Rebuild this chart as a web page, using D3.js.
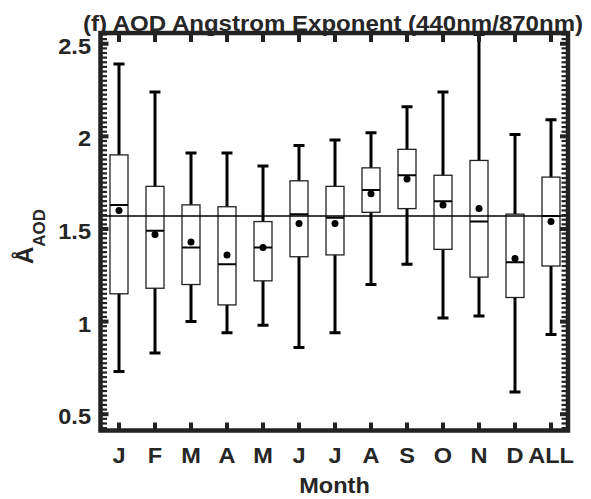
<!DOCTYPE html>
<html><head><meta charset="utf-8">
<script src="https://cdn.jsdelivr.net/npm/d3@7"></script>
<style>body{margin:0;background:#fff}svg{display:block}text{font-family:"Liberation Sans",Arial,sans-serif;font-weight:bold;fill:#262626}</style>
</head><body><svg id="c" width="591" height="499"></svg>
<script>
const months = ["J","F","M","A","M","J","J","A","S","O","N","D","ALL"];
const whiskerHigh = [2.39,2.24,1.91,1.91,1.84,1.95,1.98,2.02,2.16,2.24,2.55,2.01,2.09];
const q3 = [1.90,1.73,1.63,1.62,1.54,1.76,1.73,1.83,1.93,1.79,1.87,1.58,1.78];
const medians = [1.63,1.49,1.40,1.31,1.40,1.58,1.56,1.71,1.79,1.65,1.54,1.32,1.57];
const means = [1.60,1.47,1.43,1.36,1.40,1.53,1.53,1.69,1.77,1.63,1.61,1.34,1.54];
const q1 = [1.15,1.18,1.20,1.09,1.22,1.35,1.36,1.59,1.61,1.39,1.24,1.13,1.30];
const whiskerLow = [0.73,0.83,1.00,0.94,0.98,0.86,0.94,1.20,1.31,1.02,1.03,0.62,0.93];
const refLine = 1.57;
const yTicks = [0.5,1,1.5,2,2.5];
const yTickLabels = ["0.5","1","1.5","2","2.5"];

const svg = d3.select("#c");
const L = 100.5, R = 568, T = 33, B = 430.5;
const x = d3.scaleLinear().domain([-0.5, 12.5]).range([101, 569]);
const y = d3.scaleLinear().domain([0.412, 2.558]).range([B, T]);
const sx = 1.07;
const frameC = "#222";

const data = months.map((m,i)=>({m,i,hi:whiskerHigh[i],q3:q3[i],med:medians[i],mean:means[i],q1:q1[i],lo:whiskerLow[i]}));
const bw = 18, cw = 11;
const g = svg.append("g");
const clip = svg.append("clipPath").attr("id","pc").append("rect").attr("x",L).attr("y",T).attr("width",R-L).attr("height",B-T);
const pg = g.append("g").attr("clip-path","url(#pc)");

// whiskers
pg.selectAll(".wh").data(data).enter().append("line")
  .attr("x1",d=>x(d.i)).attr("x2",d=>x(d.i)).attr("y1",d=>y(d.hi)).attr("y2",d=>y(d.lo))
  .attr("stroke","#000").attr("stroke-width",3);
pg.selectAll(".capH").data(data).enter().append("line")
  .attr("x1",d=>x(d.i)-cw/2).attr("x2",d=>x(d.i)+cw/2).attr("y1",d=>y(d.hi)).attr("y2",d=>y(d.hi))
  .attr("stroke","#000").attr("stroke-width",3);
pg.selectAll(".capL").data(data).enter().append("line")
  .attr("x1",d=>x(d.i)-cw/2).attr("x2",d=>x(d.i)+cw/2).attr("y1",d=>y(d.lo)).attr("y2",d=>y(d.lo))
  .attr("stroke","#000").attr("stroke-width",3);
// boxes
pg.selectAll(".box").data(data).enter().append("rect")
  .attr("x",d=>x(d.i)-bw/2).attr("width",bw).attr("y",d=>y(d.q3)).attr("height",d=>y(d.q1)-y(d.q3))
  .attr("fill","#fff").attr("stroke","#222").attr("stroke-width",1.3);
pg.selectAll(".med").data(data).enter().append("line")
  .attr("x1",d=>x(d.i)-bw/2).attr("x2",d=>x(d.i)+bw/2).attr("y1",d=>y(d.med)).attr("y2",d=>y(d.med))
  .attr("stroke","#000").attr("stroke-width",2);
pg.selectAll(".mean").data(data).enter().append("circle")
  .attr("cx",d=>x(d.i)).attr("cy",d=>y(d.mean)).attr("r",3.5).attr("fill","#000");
// reference line
g.append("line").attr("x1",L).attr("x2",R).attr("y1",y(refLine)).attr("y2",y(refLine))
  .attr("stroke","#000").attr("stroke-width",1.6);

// minor y ticks
const minor = d3.range(0.425, 2.56, 0.025).filter(v=>Math.abs(v*2-Math.round(v*2))>1e-6);
const mt = g.append("g");
minor.forEach(v=>{
  mt.append("line").attr("x1",L).attr("x2",L+6.5).attr("y1",y(v)).attr("y2",y(v)).attr("stroke",frameC).attr("stroke-width",2.2);
  mt.append("line").attr("x1",R).attr("x2",R-6.5).attr("y1",y(v)).attr("y2",y(v)).attr("stroke",frameC).attr("stroke-width",2.2);
});
yTicks.forEach(v=>{
  mt.append("line").attr("x1",L).attr("x2",L+8).attr("y1",y(v)).attr("y2",y(v)).attr("stroke",frameC).attr("stroke-width",4);
  mt.append("line").attr("x1",R).attr("x2",R-8).attr("y1",y(v)).attr("y2",y(v)).attr("stroke",frameC).attr("stroke-width",4);
});
months.forEach((m,i)=>{
  mt.append("line").attr("x1",x(i)).attr("x2",x(i)).attr("y1",T).attr("y2",T+9).attr("stroke",frameC).attr("stroke-width",4);
  mt.append("line").attr("x1",x(i)).attr("x2",x(i)).attr("y1",B).attr("y2",B-8).attr("stroke",frameC).attr("stroke-width",4);
});
// frame
g.append("rect").attr("x",L).attr("y",T).attr("width",R-L).attr("height",B-T)
  .attr("fill","none").attr("stroke",frameC).attr("stroke-width",4.5);

function txt(xp, yp, s, size, anchor){
  return svg.append("g").attr("transform",`translate(${xp},${yp}) scale(${sx},1)`)
    .append("text").attr("text-anchor",anchor).style("font-size",size+"px").text(s);
}
yTicks.forEach((v,k)=>txt(91, y(v)+10, yTickLabels[k], 22, "end"));
months.forEach((m,i)=>txt(x(i), 463, m, 22, "middle"));
txt(334.5, 493, "Month", 22, "middle");
const t = svg.append("text").attr("x",333).attr("y",30.5).attr("text-anchor","middle")
  .attr("textLength",500).attr("lengthAdjust","spacingAndGlyphs").style("font-size","22px")
  .text("(f) AOD Angstrom Exponent (440nm/870nm)");
// y label
const yl = svg.append("text").attr("transform","translate(33,264) rotate(-90)").style("font-size","24px");
yl.append("tspan").text("Å");
yl.append("tspan").attr("dy",12).style("font-size","17px").text("AOD");
</script></body></html>
